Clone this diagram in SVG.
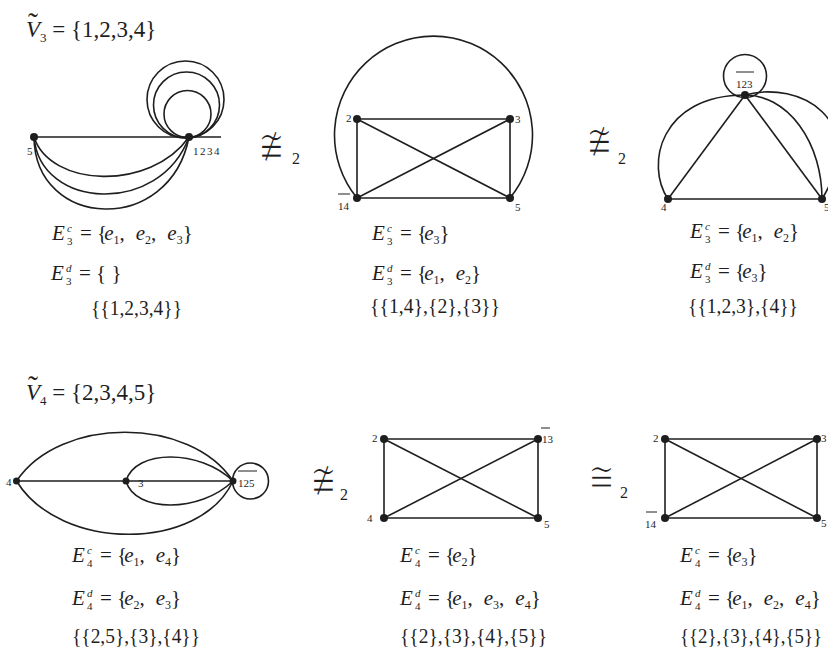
<svg xmlns="http://www.w3.org/2000/svg" width="828" height="654" viewBox="0 0 828 654">
<style>
.e{fill:none;stroke:#1e1e1e;stroke-width:1.6}
.n{fill:#1e1e1e}
.t{font-family:"Liberation Serif","Times New Roman",serif;fill:#1e1e1e}
.m{font-size:21px}
.st{font-size:20px}
.i{font-style:italic}
.sb{font-size:12px}
.ss{font-size:11px}
.lb{font-size:11px}
.sy{font-family:"DejaVu Serif",serif;font-size:32px;fill:#1e1e1e;stroke:#fff;stroke-width:1.2}
.ol{stroke:#1e1e1e;stroke-width:1}
</style>
<rect width="828" height="654" fill="#fff"/>

<!-- Titles -->
<g id="title3">
<text class="t" font-size="30" x="28" y="33">˜</text>
<text class="t" font-size="23" x="26" y="37"><tspan class="i">V</tspan><tspan font-size="13" dy="5">3</tspan><tspan dy="-5"> = {1,2,3,4}</tspan></text>
</g>
<g id="title4">
<text class="t" font-size="30" x="28" y="396">˜</text>
<text class="t" font-size="23" x="26" y="400"><tspan class="i">V</tspan><tspan font-size="13" dy="5">4</tspan><tspan dy="-5"> = {2,3,4,5}</tspan></text>
</g>

<!-- Graph A (top-left) -->
<g id="A-edges">
<line class="e" x1="34" y1="137" x2="221" y2="137"/>
<circle class="e" cx="185.5" cy="99.5" r="38.5"/>
<circle class="e" cx="186.5" cy="105" r="33"/>
<circle class="e" cx="187.5" cy="114" r="23.5"/>
<path class="e" d="M34,137 C50,187 150,192 189,137"/>
<path class="e" d="M34,137 C40,210 160,216 189,137"/>
<path class="e" d="M34,137 C35,230 170,236 189,137"/>
</g>
<g id="A-n5"><circle class="n" cx="34" cy="137" r="4"/><text class="t lb" x="27" y="155">5</text></g>
<g id="A-n1234"><circle class="n" cx="189" cy="137" r="4"/><text class="t lb" x="193" y="155" letter-spacing="1.5">1234</text></g>

<!-- Graph B (top-middle) -->
<g id="B-edges">
<path class="e" d="M357,198 A99,99 0 1 1 510,198"/>
<line class="e" x1="357" y1="119" x2="510" y2="119"/>
<line class="e" x1="357" y1="198" x2="510" y2="198"/>
<line class="e" x1="357" y1="119" x2="357" y2="198"/>
<line class="e" x1="510" y1="119" x2="510" y2="198"/>
<line class="e" x1="357" y1="119" x2="510" y2="198"/>
<line class="e" x1="510" y1="119" x2="357" y2="198"/>
</g>
<g id="B-n2"><circle class="n" cx="357" cy="119" r="4"/><text class="t lb" x="346" y="122">2</text></g>
<g id="B-n3"><circle class="n" cx="510" cy="119" r="4"/><text class="t lb" x="515" y="123">3</text></g>
<g id="B-n14"><circle class="n" cx="357" cy="198" r="4"/><text class="t lb" x="338" y="210">14</text><line class="ol" x1="338" y1="194" x2="350" y2="194"/></g>
<g id="B-n5"><circle class="n" cx="510" cy="198" r="4"/><text class="t lb" x="515" y="211">5</text></g>

<!-- Graph C (top-right) -->
<g id="C-edges">
<circle class="e" cx="745" cy="76" r="21.5"/>
<line class="e" x1="745" y1="95" x2="668" y2="199"/>
<line class="e" x1="745" y1="95" x2="822" y2="199"/>
<line class="e" x1="668" y1="199" x2="822" y2="199"/>
<path class="e" d="M668,199 C645,165 660,95 745,95"/>
<path class="e" d="M745,95 A77,104 0 0 1 822,199"/>
<path class="e" d="M745,95 C800,80 870,120 822,199"/>
</g>
<g id="C-n123"><circle class="n" cx="745" cy="95" r="4"/><text class="t lb" x="736" y="88">123</text><line class="ol" x1="736" y1="72" x2="754" y2="72"/></g>
<g id="C-n4"><circle class="n" cx="668" cy="199" r="4"/><text class="t lb" x="661" y="211">4</text></g>
<g id="C-n5"><circle class="n" cx="822" cy="199" r="4"/><text class="t lb" x="824" y="211">5</text></g>

<!-- Relations top -->
<g id="rel1"><text class="sy" text-anchor="middle" transform="translate(271,147) scale(1,1.5)" x="0" y="10">≇</text><text class="t" font-size="16" x="292" y="164">2</text></g>
<g id="rel2"><text class="sy" text-anchor="middle" transform="translate(599,142) scale(1,1.5)" x="0" y="10">≇</text><text class="t" font-size="16" x="618" y="164">2</text></g>

<!-- Top texts -->
<g id="A-text">
<text class="t m i" x="52" y="240">E</text><text class="t ss i" x="67" y="232">c</text><text class="t ss" x="67" y="245">3</text>
<text class="t m" x="80" y="240">= {<tspan class="i" dx="-3">e</tspan><tspan class="sb" dy="4">1</tspan><tspan dy="-4">,</tspan><tspan class="i" dx="11">e</tspan><tspan class="sb" dy="4">2</tspan><tspan dy="-4">,</tspan><tspan class="i" dx="11">e</tspan><tspan class="sb" dy="4">3</tspan><tspan dy="-4">}</tspan></text>
<text class="t m i" x="51" y="280">E</text><text class="t ss i" x="66" y="272">d</text><text class="t ss" x="66" y="285">3</text>
<text class="t m" x="79" y="280">= { }</text>
<text class="t st" x="91" y="315" textLength="91" lengthAdjust="spacingAndGlyphs">{{1,2,3,4}}</text>
</g>
<g id="B-text">
<text class="t m i" x="372" y="240">E</text><text class="t ss i" x="387" y="232">c</text><text class="t ss" x="387" y="245">3</text>
<text class="t m" x="400" y="240">= {<tspan class="i" dx="-3">e</tspan><tspan class="sb" dy="4">3</tspan><tspan dy="-4">}</tspan></text>
<text class="t m i" x="372" y="280">E</text><text class="t ss i" x="387" y="272">d</text><text class="t ss" x="387" y="285">3</text>
<text class="t m" x="400" y="280">= {<tspan class="i" dx="-3">e</tspan><tspan class="sb" dy="4">1</tspan><tspan dy="-4">,</tspan><tspan class="i" dx="11">e</tspan><tspan class="sb" dy="4">2</tspan><tspan dy="-4">}</tspan></text>
<text class="t st" x="370" y="313" textLength="130" lengthAdjust="spacingAndGlyphs">{{1,4},{2},{3}}</text>
</g>
<g id="C-text">
<text class="t m i" x="690" y="238">E</text><text class="t ss i" x="705" y="230">c</text><text class="t ss" x="705" y="243">3</text>
<text class="t m" x="718" y="238">= {<tspan class="i" dx="-3">e</tspan><tspan class="sb" dy="4">1</tspan><tspan dy="-4">,</tspan><tspan class="i" dx="11">e</tspan><tspan class="sb" dy="4">2</tspan><tspan dy="-4">}</tspan></text>
<text class="t m i" x="690" y="278">E</text><text class="t ss i" x="705" y="270">d</text><text class="t ss" x="705" y="283">3</text>
<text class="t m" x="718" y="278">= {<tspan class="i" dx="-3">e</tspan><tspan class="sb" dy="4">3</tspan><tspan dy="-4">}</tspan></text>
<text class="t st" x="688" y="313" textLength="110" lengthAdjust="spacingAndGlyphs">{{1,2,3},{4}}</text>
</g>

<!-- Graph D (bottom-left) -->
<g id="D-edges">
<line class="e" x1="16.5" y1="481" x2="233" y2="481"/>
<circle class="e" cx="250.5" cy="481" r="18"/>
<path class="e" d="M16.5,481 C60,416 190,416 233,481"/>
<path class="e" d="M16.5,481 C60,552 200,552 233,481"/>
<path class="e" d="M126,481 C135,449 200,449 233,481"/>
<path class="e" d="M126,481 C135,513 200,513 233,481"/>
</g>
<g id="D-n4"><circle class="n" cx="16.5" cy="481" r="3.5"/><text class="t lb" x="6" y="486">4</text></g>
<g id="D-n3"><circle class="n" cx="126" cy="481" r="3.5"/><text class="t lb" x="138" y="487">3</text></g>
<g id="D-n125"><circle class="n" cx="233" cy="481" r="3.5"/><text class="t lb" x="238" y="487">125</text><line class="ol" x1="238" y1="471" x2="257" y2="471"/></g>

<!-- Graph E (bottom-middle) -->
<g id="E-edges">
<line class="e" x1="384" y1="439" x2="538" y2="439"/>
<line class="e" x1="384" y1="518" x2="538" y2="518"/>
<line class="e" x1="384" y1="439" x2="384" y2="518"/>
<line class="e" x1="538" y1="439" x2="538" y2="518"/>
<line class="e" x1="384" y1="439" x2="538" y2="518"/>
<line class="e" x1="538" y1="439" x2="384" y2="518"/>
</g>
<g id="E-n2"><circle class="n" cx="384" cy="439" r="4"/><text class="t lb" x="372" y="442">2</text></g>
<g id="E-n13"><circle class="n" cx="538" cy="439" r="4"/><text class="t lb" x="542" y="443">13</text><line class="ol" x1="541" y1="428" x2="550" y2="428"/></g>
<g id="E-n4"><circle class="n" cx="384" cy="518" r="4"/><text class="t lb" x="367" y="522">4</text></g>
<g id="E-n5"><circle class="n" cx="538" cy="518" r="4"/><text class="t lb" x="544" y="528">5</text></g>

<!-- Graph F (bottom-right) -->
<g id="F-edges">
<line class="e" x1="665" y1="439" x2="817" y2="439"/>
<line class="e" x1="665" y1="518" x2="817" y2="518"/>
<line class="e" x1="665" y1="439" x2="665" y2="518"/>
<line class="e" x1="817" y1="439" x2="817" y2="518"/>
<line class="e" x1="665" y1="439" x2="817" y2="518"/>
<line class="e" x1="817" y1="439" x2="665" y2="518"/>
</g>
<g id="F-n2"><circle class="n" cx="665" cy="439" r="4"/><text class="t lb" x="653" y="442">2</text></g>
<g id="F-n3"><circle class="n" cx="817" cy="439" r="4"/><text class="t lb" x="821" y="442">3</text></g>
<g id="F-n14"><circle class="n" cx="665" cy="518" r="4"/><text class="t lb" x="645" y="528">14</text><line class="ol" x1="646" y1="512" x2="657" y2="512"/></g>
<g id="F-n5"><circle class="n" cx="817" cy="518" r="4"/><text class="t lb" x="821" y="527">5</text></g>

<!-- Relations bottom -->
<g id="rel3"><text class="sy" text-anchor="middle" transform="translate(323,481) scale(1,1.5)" x="0" y="10">≇</text><text class="t" font-size="16" x="340" y="500">2</text></g>
<g id="rel4"><text class="sy" text-anchor="middle" transform="translate(601,478) scale(1,1.3)" x="0" y="10">≅</text><text class="t" font-size="16" x="620" y="498">2</text></g>

<!-- Bottom texts -->
<g id="D-text">
<text class="t m i" x="72" y="562">E</text><text class="t ss i" x="87" y="554">c</text><text class="t ss" x="87" y="567">4</text>
<text class="t m" x="100" y="562">= {<tspan class="i" dx="-3">e</tspan><tspan class="sb" dy="4">1</tspan><tspan dy="-4">,</tspan><tspan class="i" dx="11">e</tspan><tspan class="sb" dy="4">4</tspan><tspan dy="-4">}</tspan></text>
<text class="t m i" x="72" y="605">E</text><text class="t ss i" x="87" y="597">d</text><text class="t ss" x="87" y="610">4</text>
<text class="t m" x="100" y="605">= {<tspan class="i" dx="-3">e</tspan><tspan class="sb" dy="4">2</tspan><tspan dy="-4">,</tspan><tspan class="i" dx="11">e</tspan><tspan class="sb" dy="4">3</tspan><tspan dy="-4">}</tspan></text>
<text class="t st" x="72" y="643" textLength="128" lengthAdjust="spacingAndGlyphs">{{2,5},{3},{4}}</text>
</g>
<g id="E-text">
<text class="t m i" x="400" y="562">E</text><text class="t ss i" x="415" y="554">c</text><text class="t ss" x="415" y="567">4</text>
<text class="t m" x="428" y="562">= {<tspan class="i" dx="-3">e</tspan><tspan class="sb" dy="4">2</tspan><tspan dy="-4">}</tspan></text>
<text class="t m i" x="400" y="605">E</text><text class="t ss i" x="415" y="597">d</text><text class="t ss" x="415" y="610">4</text>
<text class="t m" x="428" y="605">= {<tspan class="i" dx="-3">e</tspan><tspan class="sb" dy="4">1</tspan><tspan dy="-4">,</tspan><tspan class="i" dx="11">e</tspan><tspan class="sb" dy="4">3</tspan><tspan dy="-4">,</tspan><tspan class="i" dx="11">e</tspan><tspan class="sb" dy="4">4</tspan><tspan dy="-4">}</tspan></text>
<text class="t st" x="400" y="643" textLength="147" lengthAdjust="spacingAndGlyphs">{{2},{3},{4},{5}}</text>
</g>
<g id="F-text">
<text class="t m i" x="680" y="562">E</text><text class="t ss i" x="695" y="554">c</text><text class="t ss" x="695" y="567">4</text>
<text class="t m" x="708" y="562">= {<tspan class="i" dx="-3">e</tspan><tspan class="sb" dy="4">3</tspan><tspan dy="-4">}</tspan></text>
<text class="t m i" x="680" y="605">E</text><text class="t ss i" x="695" y="597">d</text><text class="t ss" x="695" y="610">4</text>
<text class="t m" x="708" y="605">= {<tspan class="i" dx="-3">e</tspan><tspan class="sb" dy="4">1</tspan><tspan dy="-4">,</tspan><tspan class="i" dx="11">e</tspan><tspan class="sb" dy="4">2</tspan><tspan dy="-4">,</tspan><tspan class="i" dx="11">e</tspan><tspan class="sb" dy="4">4</tspan><tspan dy="-4">}</tspan></text>
<text class="t st" x="680" y="643" textLength="142" lengthAdjust="spacingAndGlyphs">{{2},{3},{4},{5}}</text>
</g>
</svg>
